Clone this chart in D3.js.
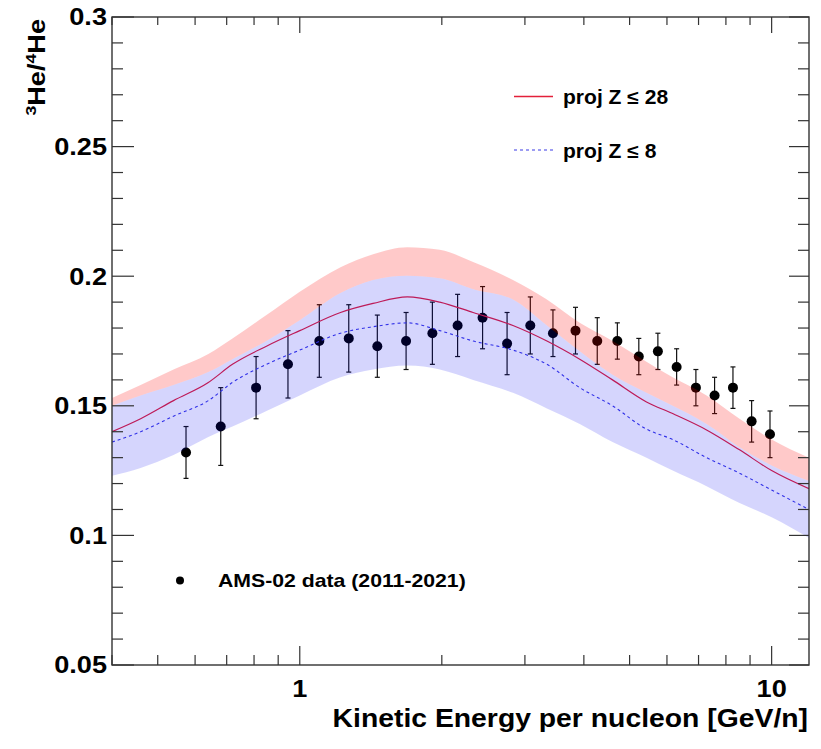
<!DOCTYPE html>
<html>
<head>
<meta charset="utf-8">
<script src="https://cdn.jsdelivr.net/npm/d3@7"></script>
<style>
  html, body { margin: 0; padding: 0; background: #fff; }
  svg { display: block; }
  text { font-family: "Liberation Sans", Arial, Helvetica, sans-serif; font-weight: bold; fill: #000; }
</style>
</head>
<body>
<svg id="chart" width="821" height="749"></svg>
<script>
// Model prediction grid: kinetic energy per nucleon [GeV/n]
const energyGrid = [0.40, 0.46, 0.54, 0.64, 0.72, 0.85, 1.0, 1.22, 1.43, 1.69, 1.98, 2.33, 2.83, 3.34, 3.92, 4.60, 5.43, 6.17, 7.28, 8.55, 10.0, 12.0];

// proj Z <= 28 : central curve and upper edge of its uncertainty band
const z28Central = [0.140, 0.145, 0.152, 0.159, 0.166, 0.173, 0.179, 0.186, 0.1895, 0.192, 0.190, 0.186, 0.181, 0.175, 0.168, 0.160, 0.1515, 0.147, 0.1407, 0.133, 0.125, 0.118];
const z28Upper   = [0.153, 0.158, 0.164, 0.170, 0.176, 0.185, 0.194, 0.2035, 0.2085, 0.2112, 0.2102, 0.2055, 0.1985, 0.191, 0.182, 0.175, 0.167, 0.161, 0.154, 0.145, 0.137, 0.130];

// proj Z <= 8 : central curve and uncertainty band
const z8Central = [0.136, 0.140, 0.146, 0.152, 0.159, 0.166, 0.1715, 0.178, 0.1805, 0.182, 0.179, 0.175, 0.1715, 0.166, 0.157, 0.150, 0.141, 0.137, 0.130, 0.124, 0.1175, 0.110];
const z8Upper   = [0.150, 0.154, 0.158, 0.163, 0.168, 0.175, 0.183, 0.1935, 0.1985, 0.2002, 0.1992, 0.195, 0.191, 0.181, 0.171, 0.162, 0.155, 0.150, 0.143, 0.134, 0.127, 0.121];
const z8Lower   = [0.123, 0.126, 0.131, 0.138, 0.142, 0.148, 0.154, 0.161, 0.164, 0.1655, 0.164, 0.160, 0.155, 0.149, 0.143, 0.136, 0.130, 0.125, 0.119, 0.1125, 0.107, 0.099];

// AMS-02 measurements (2011-2021)
const amsEnergy = [0.574, 0.680, 0.808, 0.944, 1.10, 1.27, 1.46, 1.68, 1.91, 2.16, 2.44, 2.75, 3.08, 3.44, 3.84, 4.27, 4.71, 5.23, 5.74, 6.29, 6.91, 7.57, 8.28, 9.07, 9.92];
const amsRatio  = [0.132, 0.142, 0.157, 0.166, 0.175, 0.176, 0.173, 0.175, 0.178, 0.181, 0.184, 0.174, 0.181, 0.178, 0.179, 0.175, 0.175, 0.169, 0.171, 0.165, 0.157, 0.154, 0.157, 0.144, 0.139];
const amsError  = [0.010, 0.015, 0.012, 0.013, 0.014, 0.013, 0.012, 0.011, 0.012, 0.012, 0.012, 0.012, 0.011, 0.009, 0.009, 0.009, 0.007, 0.007, 0.007, 0.007, 0.007, 0.007, 0.008, 0.008, 0.009];

// Axis labels
const yTickValues = [0.05, 0.1, 0.15, 0.2, 0.25, 0.3];
const yTickLabels = ["0.05", "0.1", "0.15", "0.2", "0.25", "0.3"];
const xTickValues = [1, 10];
const xTickLabels = ["1", "10"];

const svg = d3.select("#chart");
const padL = 112, padR = 809, padT = 17, padB = 665;

const x = d3.scaleLog().domain([0.4, 12]).range([padL, padR]);
const y = d3.scaleLinear().domain([0.05, 0.3]).range([padB, padT]);

svg.append("defs").append("clipPath").attr("id", "plotClip")
  .append("rect").attr("x", padL).attr("y", padT).attr("width", padR - padL).attr("height", padB - padT);

const plot = svg.append("g").attr("clip-path", "url(#plotClip)");

// Data points with error bars
const pts = plot.append("g");
amsEnergy.forEach((e, i) => {
  const cx = x(e);
  const yHi = y(amsRatio[i] + amsError[i]);
  const yLo = y(amsRatio[i] - amsError[i]);
  pts.append("line").attr("x1", cx).attr("x2", cx).attr("y1", yHi).attr("y2", yLo)
    .attr("stroke", "#111").attr("stroke-width", 1.2);
  [yHi, yLo].forEach(yy => pts.append("line")
    .attr("x1", cx - 2.5).attr("x2", cx + 2.5).attr("y1", yy).attr("y2", yy)
    .attr("stroke", "#111").attr("stroke-width", 1.2));
  pts.append("circle").attr("cx", cx).attr("cy", y(amsRatio[i])).attr("r", 5).attr("fill", "#000");
});

// Central model curves
const idx = d3.range(energyGrid.length);
const curve = arr => d3.line().curve(d3.curveMonotoneX)
  .x(i => x(energyGrid[i])).y(i => y(arr[i]))(idx);

plot.append("path").attr("d", curve(z28Central))
  .attr("fill", "none").attr("stroke", "#e3203a").attr("stroke-width", 1.2);
plot.append("path").attr("d", curve(z8Central))
  .attr("fill", "none").attr("stroke", "#3a3ae6").attr("stroke-width", 1.1)
  .attr("stroke-dasharray", "3,3");

// Uncertainty bands (translucent, laid over the points and curves)
const band = (lo, hi) => d3.area().curve(d3.curveMonotoneX)
  .x(i => x(energyGrid[i])).y0(i => y(lo[i])).y1(i => y(hi[i]))(idx);

// Z<=28 band shown where it rises above the Z<=8 band
plot.append("path").attr("d", band(z8Upper, z28Upper))
  .attr("fill", "rgb(255,0,0)").attr("fill-opacity", 0.21);
plot.append("path").attr("d", band(z8Lower, z8Upper))
  .attr("fill", "rgb(0,0,240)").attr("fill-opacity", 0.165);

// Frame and ticks
const axisColor = "#333";
svg.append("rect").attr("x", padL).attr("y", padT).attr("width", padR - padL).attr("height", padB - padT)
  .attr("fill", "none").attr("stroke", axisColor).attr("stroke-width", 1.4);

const ticks = svg.append("g").attr("stroke", axisColor).attr("stroke-width", 1.2);
d3.range(5, 31).map(v => v / 100).forEach(v => {
  const major = Math.abs(v * 20 - Math.round(v * 20)) < 1e-6;
  const yy = y(v);
  ticks.append("line").attr("x1", padL).attr("x2", padL + (major ? 22 : 11)).attr("y1", yy).attr("y2", yy);
  ticks.append("line").attr("x1", padR).attr("x2", padR - (major ? 20 : 11)).attr("y1", yy).attr("y2", yy);
});
x.ticks().forEach(v => {
  const major = Math.abs(Math.log10(v) - Math.round(Math.log10(v))) < 1e-6;
  const xx = x(v);
  ticks.append("line").attr("x1", xx).attr("x2", xx).attr("y1", padB).attr("y2", padB - (major ? 19 : 10));
  ticks.append("line").attr("x1", xx).attr("x2", xx).attr("y1", padT).attr("y2", padT + (major ? 16 : 8));
});

// Stretched bold text helper
function label(g, px, py, str, size, anchor, sx, rot) {
  const t = g.append("text")
    .attr("transform", `translate(${px},${py})${rot ? ` rotate(${rot})` : ""} scale(${sx},1)`)
    .attr("font-size", size).attr("text-anchor", anchor);
  if (typeof str === "string") t.text(str);
  return t;
}

// Tick labels
yTickValues.forEach((v, i) => {
  label(svg, 107, y(v) + 8.3, yTickLabels[i], 23, "end", 1.18);
});
xTickValues.forEach((v, i) => {
  label(svg, x(v), 697, xTickLabels[i], 23, "middle", 1.18);
});

// Axis titles
label(svg, 808, 727, "Kinetic Energy per nucleon [GeV/n]", 26, "end", 1.09);
const yt = label(svg, 45, 19, null, 23, "end", 1.18, -90);
yt.append("tspan").attr("font-size", 15).attr("dy", -9).text("3");
yt.append("tspan").attr("dy", 9).text("He/");
yt.append("tspan").attr("font-size", 15).attr("dy", -9).text("4");
yt.append("tspan").attr("dy", 9).text("He");

// Legends
svg.append("line").attr("x1", 514).attr("x2", 553).attr("y1", 96.5).attr("y2", 96.5)
  .attr("stroke", "#e3203a").attr("stroke-width", 1.4);
label(svg, 563, 103.5, "proj Z \u2264 28", 19.5, "start", 1.08);
svg.append("line").attr("x1", 514).attr("x2", 553).attr("y1", 150).attr("y2", 150)
  .attr("stroke", "#3a3ae6").attr("stroke-width", 1.2).attr("stroke-dasharray", "3,3");
label(svg, 563, 157.5, "proj Z \u2264 8", 19.5, "start", 1.08);

svg.append("circle").attr("cx", 180).attr("cy", 580.5).attr("r", 4).attr("fill", "#000");
label(svg, 218, 587, "AMS-02 data (2011-2021)", 18, "start", 1.18);
</script>
</body>
</html>
